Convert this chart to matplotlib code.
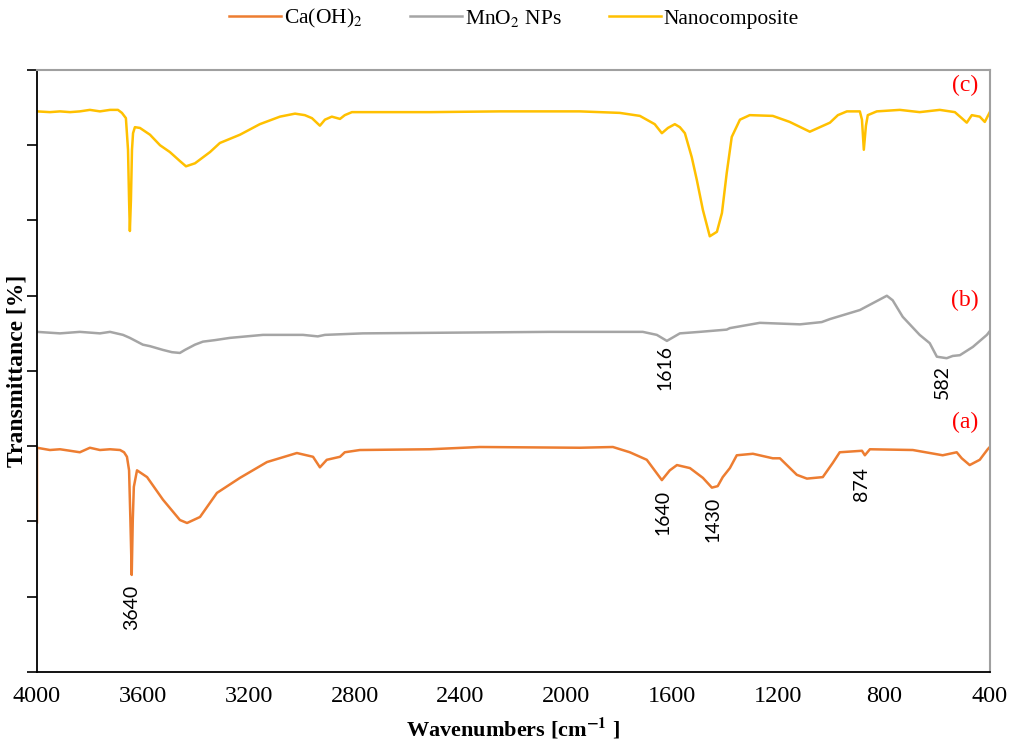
import matplotlib
matplotlib.use('Agg')
import matplotlib.pyplot as plt

plt.rcParams['font.family'] = 'Liberation Serif'
plt.rcParams['mathtext.fontset'] = 'stix'

# FTIR spectra, wavenumber (cm-1) vs. offset transmittance (arbitrary units)
wn_a = [4000, 4000, 3951, 3913, 3875, 3838, 3800, 3762, 3724, 3686, 3671, 3660, 3652, 3647, 3642,
        3638, 3634, 3622, 3584, 3524, 3460, 3433, 3384, 3320, 3233, 3131, 3018, 2957, 2931,
        2905, 2855, 2837, 2780, 2515, 2327, 1949, 1824, 1760, 1696, 1639, 1609, 1582, 1533,
        1484, 1450, 1428, 1409, 1382, 1356, 1295, 1220, 1193, 1129, 1091, 1031, 993, 967,
        883, 872, 853, 691, 578, 525, 506, 476, 438, 408, 400]
tr_a = [1.99, 2.98, 2.95, 2.96, 2.94, 2.92, 2.98, 2.95, 2.96, 2.95, 2.92, 2.86, 2.68, 2.02, 1.29,
        2.02, 2.46, 2.68, 2.59, 2.29, 2.02, 1.98, 2.06, 2.38, 2.58, 2.79, 2.91, 2.86, 2.72,
        2.82, 2.86, 2.92, 2.95, 2.96, 2.99, 2.98, 2.99, 2.92, 2.82, 2.55, 2.68, 2.75, 2.71,
        2.58, 2.45, 2.47, 2.59, 2.71, 2.88, 2.90, 2.84, 2.84, 2.62, 2.57, 2.59, 2.78, 2.92,
        2.94, 2.88, 2.96, 2.95, 2.88, 2.92, 2.84, 2.75, 2.82, 2.96, 2.99]

wn_b = [4000, 3913, 3838, 3762, 3724, 3675, 3649, 3600, 3573, 3524, 3490, 3460, 3441, 3403,
        3373, 3328, 3271, 3146, 2995, 2939, 2912, 2769, 2062, 1711, 1658, 1620, 1571, 1496,
        1394, 1382, 1269, 1117, 1035, 1004, 891, 789, 767, 729, 665, 627, 600, 563, 540,
        513, 464, 411, 400]
tr_b = [4.52, 4.50, 4.52, 4.50, 4.52, 4.48, 4.44, 4.35, 4.33, 4.28, 4.25, 4.24, 4.28, 4.35,
        4.39, 4.41, 4.44, 4.48, 4.48, 4.46, 4.48, 4.50, 4.52, 4.52, 4.48, 4.40, 4.50, 4.52,
        4.55, 4.57, 4.64, 4.62, 4.65, 4.69, 4.81, 5.00, 4.94, 4.72, 4.48, 4.37, 4.19, 4.17,
        4.20, 4.21, 4.32, 4.48, 4.53]

wn_c = [4000, 3951, 3913, 3875, 3838, 3800, 3762, 3724, 3694, 3679, 3664, 3656, 3652, 3649,
        3645, 3641, 3637, 3630, 3611, 3573, 3535, 3498, 3460, 3437, 3403, 3346, 3309, 3233,
        3158, 3082, 3025, 2988, 2961, 2931, 2912, 2886, 2855, 2837, 2810, 2629, 2515, 2251,
        1949, 1798, 1722, 1666, 1639, 1616, 1590, 1571, 1552, 1526, 1507, 1484, 1458, 1431,
        1412, 1394, 1375, 1344, 1307, 1220, 1156, 1080, 1042, 1004, 974, 940, 891, 883, 876,
        868, 861, 827, 740, 665, 589, 532, 506, 487, 468, 438, 419, 400]
tr_c = [7.45, 7.44, 7.45, 7.44, 7.45, 7.47, 7.45, 7.47, 7.47, 7.43, 7.36, 6.94, 6.27, 5.86,
        6.27, 6.94, 7.16, 7.24, 7.23, 7.14, 7.00, 6.91, 6.79, 6.72, 6.76, 6.91, 7.03, 7.14,
        7.28, 7.38, 7.42, 7.40, 7.36, 7.26, 7.34, 7.38, 7.35, 7.40, 7.44, 7.44, 7.44, 7.45,
        7.45, 7.43, 7.39, 7.28, 7.16, 7.23, 7.28, 7.24, 7.16, 6.84, 6.54, 6.14, 5.79, 5.85,
        6.10, 6.63, 7.11, 7.34, 7.40, 7.39, 7.31, 7.18, 7.24, 7.30, 7.40, 7.45, 7.45, 7.34, 6.94,
        7.26, 7.40, 7.45, 7.47, 7.44, 7.47, 7.44, 7.36, 7.30, 7.40, 7.38, 7.31, 7.44]

names = ['Ca(OH)$_2$', 'MnO$_2$ NPs', 'Nanocomposite']
colors = ['#ED7D31', '#A5A5A5', '#FFC000']

peak_text = ['3640', '1616', '582', '1640', '1430', '874']
peak_pos = [(3642, 1.16), (1628, 4.35), (578, 4.08), (1635, 2.42), (1446, 2.33), (883, 2.72)]
tags = ['(a)', '(b)', '(c)']
tag_y = [3.32, 4.94, 7.80]

fig = plt.figure(figsize=(10.1, 7.47), dpi=100)
ax = fig.add_axes([0.0366, 0.1004, 0.9434, 0.8059])

lines = []
for wn, tr, nm, c in zip([wn_a, wn_b, wn_c], [tr_a, tr_b, tr_c], names, colors):
    l, = ax.plot(wn, tr, color=c, lw=1.8, label=nm)
    lines.append(l)

for t, (x, y) in zip(peak_text, peak_pos):
    ax.text(x, y, t, rotation=90, ha='center', va='top', fontsize=14, family='Lato')
for t, y in zip(tags, tag_y):
    ax.text(495, y, t, color='red', ha='center', va='center', fontsize=17)

ax.set_xlim(4000, 400)
ax.set_ylim(0, 8)
ax.set_xticks(range(4000, 399, -400))
ax.set_yticks(range(0, 9))
ax.set_yticklabels([])
ax.tick_params(axis='x', length=0, pad=10, labelsize=17.5)
ax.tick_params(axis='y', length=7, width=1.2, direction='out')
for s in ['top', 'right']:
    ax.spines[s].set_color('#a0a0a0')
    ax.spines[s].set_linewidth(1.5)
for s in ['left', 'bottom']:
    ax.spines[s].set_linewidth(1.3)

ax.set_xlabel(r'Wavenumbers [cm$^{\mathbf{-1}}$ ]', fontsize=16, fontweight='bold', labelpad=7)
ax.set_ylabel('Transmittance [%]', fontsize=17, fontweight='bold')
ax.yaxis.set_label_coords(-0.01, 0.5)

fig.legend(handles=lines, loc='center', bbox_to_anchor=(0.509, 0.975), ncol=3, frameon=False,
           fontsize=15.5, handlelength=2.4, handletextpad=0.15, columnspacing=2.2)

plt.savefig('out.png')
